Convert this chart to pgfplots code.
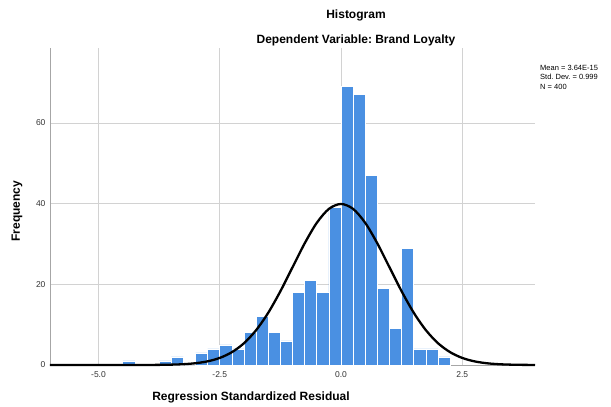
\documentclass[border=0pt]{standalone}
\usepackage{fontspec}
\setmainfont{Liberation Sans}
\usepackage{pgfplots}
\pgfplotsset{compat=1.18}
\definecolor{spssblue}{RGB}{74,144,226}
\definecolor{gridgray}{RGB}{210,210,210}
\frenchspacing
\begin{document}
\begin{tikzpicture}
\path[use as bounding box] (-50pt,-42pt) rectangle (561pt,365pt);
\begin{axis}[
    name=ax,
    at={(0,0)}, anchor=south west,
    scale only axis,
    width=485pt, height=317pt,
    xmin=-6, xmax=4,
    ymin=0, ymax=78.6,
    axis x line*=bottom,
    axis y line*=left,
    axis line style={-, draw=gray!70},
    xtick={-5,-2.5,0,2.5},
    xticklabels={-5.0,-2.5,0.0,2.5},
    ytick={0,20,40,60},
    major tick length=0pt,
    grid=major,
    major grid style={gridgray, line width=0.8pt},
    tick label style={font=\fontsize{8.5}{9}\selectfont, text=black!80},
    /pgf/number format/assume math mode=true,
    xticklabel style={yshift=-3pt},
    yticklabel style={xshift=-1pt},
    clip=false,
]
% residual histogram, bin width 0.25
\addplot[ybar interval, fill=spssblue, draw=white, line width=0.6pt] coordinates {
    (-4.5,1) (-4.25,0) (-4.0,0) (-3.75,1) (-3.5,2) (-3.25,0)
    (-3.0,3) (-2.75,4) (-2.5,5) (-2.25,4) (-2.0,8) (-1.75,12)
    (-1.5,8) (-1.25,6) (-1.0,18) (-0.75,21) (-0.5,18) (-0.25,39)
    (0.0,69) (0.25,67) (0.5,47) (0.75,19) (1.0,9) (1.25,29)
    (1.5,4) (1.75,4) (2.0,2) (2.25,0)
};
% fitted normal curve (mean 0, sd 0.999, N=400)
\addplot[black, line width=2.3pt, smooth] coordinates {
    (-6.0,0) (-5.0,0) (-4.5,0.0016) (-4.0,0.013) (-3.75,0.035) (-3.5,0.087)
    (-3.25,0.20) (-3.0,0.44) (-2.75,0.91) (-2.5,1.75) (-2.25,3.18)
    (-2.0,5.40) (-1.75,8.64) (-1.5,12.96) (-1.25,18.28) (-1.0,24.22)
    (-0.75,30.14) (-0.5,35.24) (-0.25,38.70) (0.0,39.93) (0.25,38.70)
    (0.5,35.24) (0.75,30.14) (1.0,24.22) (1.25,18.28) (1.5,12.96)
    (1.75,8.64) (2.0,5.40) (2.25,3.18) (2.5,1.75) (2.75,0.91)
    (3.0,0.44) (3.25,0.20) (3.5,0.087) (3.75,0.035) (4.0,0.013)
};
\end{axis}
\node[font=\fontsize{12}{14}\selectfont\bfseries] at (306pt,350pt) {Histogram};
\node[font=\fontsize{12}{14}\selectfont\bfseries] at (306pt,325pt) {Dependent Variable: Brand Loyalty};
\node[font=\fontsize{12}{14}\selectfont\bfseries, rotate=90] at (-33pt,154pt) {Frequency};
\node[font=\fontsize{12}{14}\selectfont\bfseries] at (201pt,-32pt) {Regression Standardized Residual};
\node[font=\fontsize{7.5}{9.5}\selectfont, anchor=north west, align=left, inner sep=0pt] at (490pt,300pt)
    {Mean = 3.64E-15\\Std. Dev. = 0.999\\N = 400};
\end{tikzpicture}
\end{document}
